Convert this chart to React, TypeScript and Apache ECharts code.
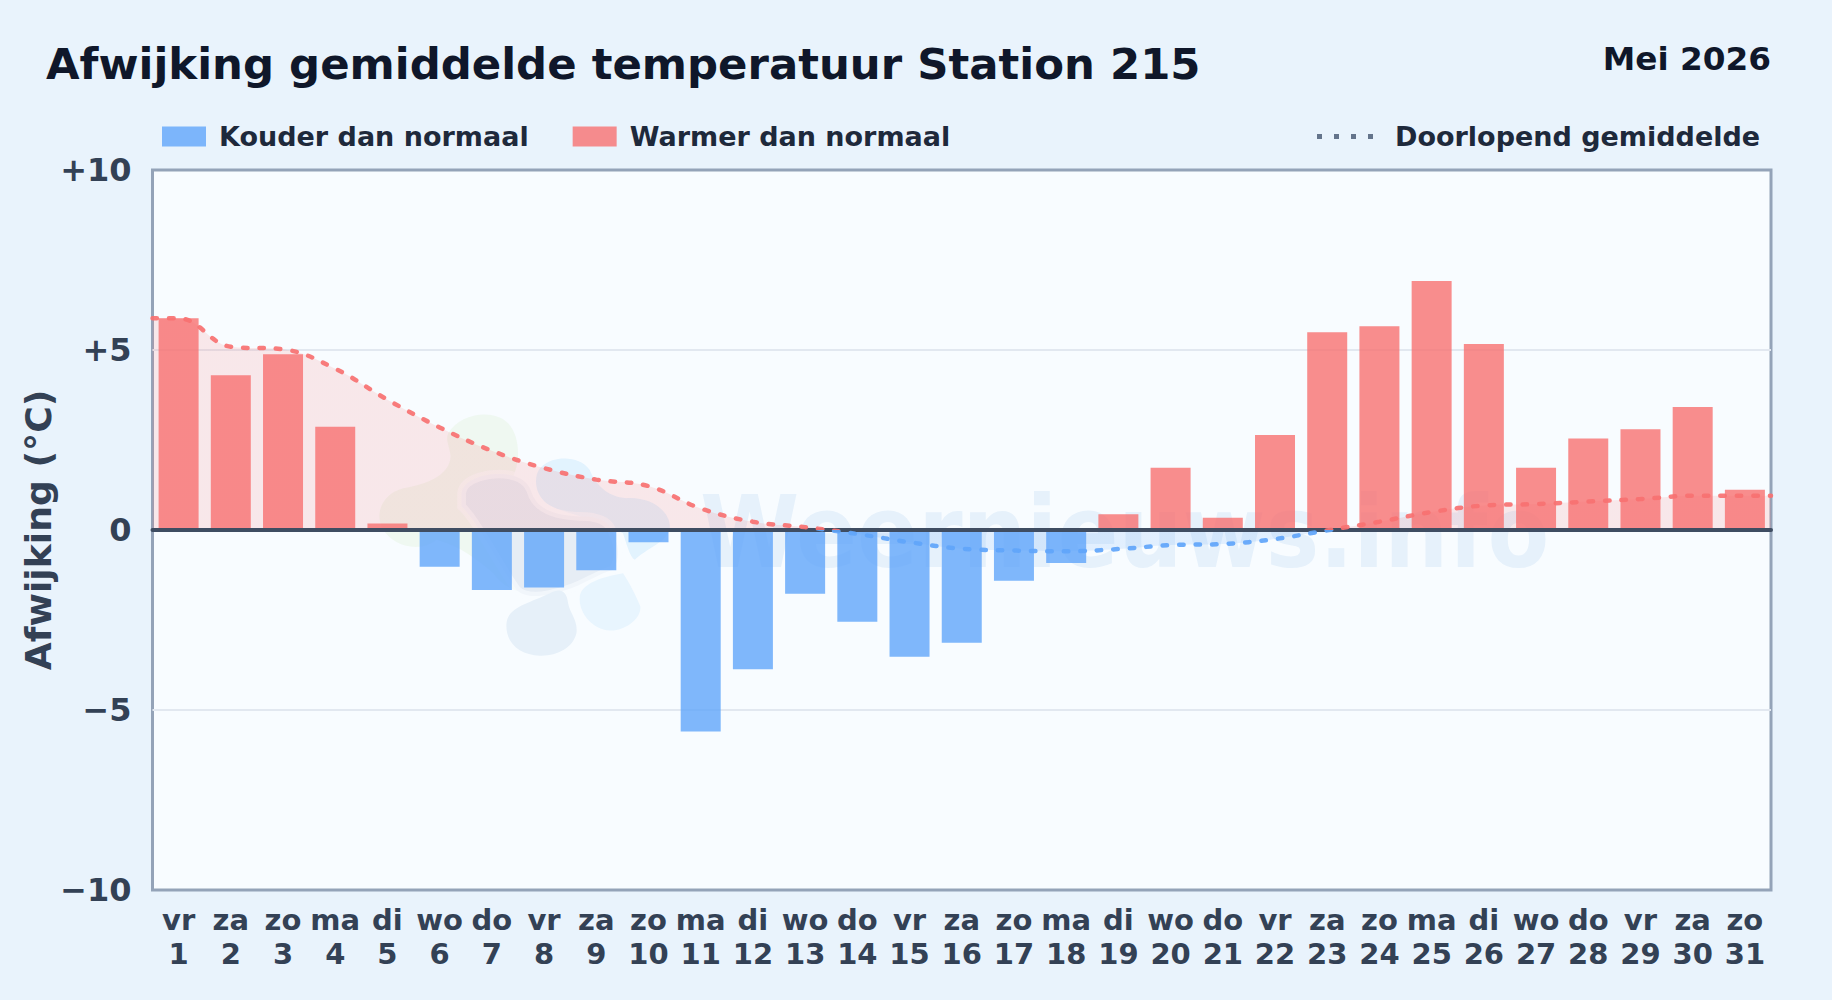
import React, { useEffect, useRef } from "react";
import * as echarts from "echarts";

const weekdays = ["vr","za","zo","ma","di","wo","do","vr","za","zo","ma","di","wo","do","vr","za","zo","ma","di","wo","do","vr","za","zo","ma","di","wo","do","vr","za","zo"];
const days = [1,2,3,4,5,6,7,8,9,10,11,12,13,14,15,16,17,18,19,20,21,22,23,24,25,26,27,28,29,30,31];
const anomalies = [5.88,4.3,4.88,2.87,0.18,-1.02,-1.67,-1.6,-1.12,-0.34,-5.6,-3.87,-1.77,-2.55,-3.52,-3.13,-1.41,-0.92,0.44,1.73,0.34,2.64,5.49,5.66,6.92,5.17,1.73,2.54,2.8,3.42,1.12];
const runningMean = [5.88,5.09,5.02,4.48,3.62,2.85,2.2,1.72,1.4,1.22,0.6,0.23,0.08,-0.11,-0.34,-0.52,-0.57,-0.59,-0.53,-0.42,-0.39,-0.25,-0.01,0.23,0.5,0.68,0.72,0.79,0.86,0.95,0.95];
const yTicks: Record<string,string> = { "10": "+10", "5": "+5", "0": "0", "-5": "\u22125", "-10": "\u221210" };

const FONT = "DejaVu Sans";
const COLD = "rgba(96,165,250,0.8)";
const WARM = "rgba(248,113,113,0.8)";
const PLOT_BG = "#f8fcff";

const blobs: [string, string, string][] = [
  ["wmGreen", "M265 100C300 40 400 25 445 70C490 120 480 220 440 260C500 350 520 500 520 570C480 590 430 560 400 520C340 470 300 440 230 420C180 460 100 440 70 390C40 340 70 280 130 265C200 255 270 225 272 170C270 140 255 120 265 100Z", "rgba(190,230,170,0.16)"],
  ["wmBlue", "M530 230C540 170 650 155 690 210C705 250 740 290 800 295C880 290 935 340 930 385C925 425 860 445 825 480C810 470 800 430 790 400C700 350 600 340 560 310C535 290 525 260 530 230Z", "rgba(160,215,250,0.25)"],
  ["wmCenter", "M305 280C310 235 390 215 450 225C500 235 510 260 520 290C540 330 590 350 680 350C730 355 750 370 760 400C780 440 780 480 760 510C720 520 660 560 620 570C560 590 500 600 470 570C400 470 350 360 305 320Z", "#e6edf5"],
  ["wmSlate", "M440 670C445 620 510 610 570 580C600 565 620 570 625 610C630 640 655 660 650 700C640 745 590 770 540 768C480 765 435 730 440 670Z", "#e6f0f9"],
  ["wmSky", "M660 590C665 550 730 530 790 520C810 550 830 590 842 620C845 660 790 695 750 692C700 690 655 640 660 590Z", "#e8f5fe"],
];
blobs.forEach(([name, d]) => {
  echarts.graphic.registerShape(name, echarts.graphic.extendPath(d, {}) as any);
});

export default function App() {
  const ref = useRef<HTMLDivElement>(null);
  useEffect(() => {
    document.body.style.margin = "0";
    const chart = echarts.init(ref.current!, undefined, { renderer: "svg" });
    const meanPoints: number[][] = [[0.5, runningMean[0]]];
    days.forEach((d, i) => meanPoints.push([d, runningMean[i]]));
    meanPoints.push([31.5, runningMean[runningMean.length - 1]]);

    chart.setOption({
      animation: false,
      backgroundColor: "#e9f3fc",
      textStyle: { fontFamily: FONT },
      title: [
        { text: "Afwijking gemiddelde temperatuur Station 215", left: 46, top: 42, padding: 0, textStyle: { fontFamily: FONT, fontSize: 43.4, fontWeight: "bold", color: "#0f172a" } },
        { text: "Mei 2026", right: 61, top: 42, padding: 0, textStyle: { fontFamily: FONT, fontSize: 32.7, fontWeight: "bold", color: "#0f172a" } },
      ],
      legend: [
        { left: 162, top: 123, itemWidth: 44, itemHeight: 20, itemGap: 44, padding: 0, data: ["Kouder dan normaal", "Warmer dan normaal"], icon: "rect",
          textStyle: { fontFamily: FONT, fontSize: 27, fontWeight: "bold", color: "#1e293b", padding: [0, 0, 0, 8] }, selectedMode: false },
        { left: 1317, top: 123, itemWidth: 56, itemHeight: 5, padding: 0, selectedMode: false,
          data: [{ name: "Doorlopend gemiddelde", icon: "path://M0 0h5v5h-5zM17 0h5v5h-5zM34 0h5v5h-5zM51 0h5v5h-5z", itemStyle: { color: "#64748b" } }],
          textStyle: { fontFamily: FONT, fontSize: 27, fontWeight: "bold", color: "#1e293b", padding: [0, 0, 0, 17] } },
      ],
      grid: { left: 152.5, right: 61, top: 170, bottom: 110, show: true, backgroundColor: PLOT_BG, borderColor: "#94a3b8", borderWidth: 3, z: 0 },
      xAxis: [
        { type: "category", data: weekdays.map((w, i) => `${w}\n${days[i]}`), position: "bottom",
          axisLine: { show: false, onZero: false }, axisTick: { show: false }, splitLine: { show: false },
          axisLabel: { interval: 0, margin: 13, fontFamily: FONT, fontSize: 29, fontWeight: "bold", color: "#334155", lineHeight: 34 } },
        { type: "value", min: 0.5, max: 31.5, position: "bottom", z: 4,
          axisLine: { show: true, onZero: true, lineStyle: { color: "#3f4d62", width: 4 } }, axisTick: { show: false }, axisLabel: { show: false }, splitLine: { show: false } },
      ],
      yAxis: { type: "value", min: -10, max: 10, interval: 5, z: 1,
        name: "Afwijking (\u00b0C)", nameLocation: "middle", nameGap: 96, nameMoveOverlap: false, nameTextStyle: { fontFamily: FONT, fontSize: 36.2, fontWeight: "bold", color: "#334155" },
        axisLine: { show: false }, axisTick: { show: false },
        axisLabel: { margin: 21, fontFamily: FONT, fontSize: 32, fontWeight: "bold", color: "#334155", formatter: (v: number) => yTicks[String(v)] ?? String(v) },
        splitLine: { showMinLine: false, showMaxLine: false, lineStyle: { color: "#e2e8f0", width: 2 } } },
      visualMap: { show: false, type: "piecewise", dimension: 1, seriesIndex: [0, 3],
        pieces: [{ min: -10, max: 0, color: "#60a5fa" }, { min: 0, max: 10, color: "#f87171" }] },
      series: [
        { name: "area", type: "line", xAxisIndex: 1, data: meanPoints, smooth: 0.4, symbol: "none", z: 2, lineStyle: { width: 0, opacity: 0 }, areaStyle: { opacity: 0.15 }, silent: true },
        { name: "Kouder dan normaal", type: "bar", xAxisIndex: 0, barWidth: 40, barGap: "-100%", z: 3, itemStyle: { color: COLD }, data: anomalies.map(v => (v < 0 ? v : null)) },
        { name: "Warmer dan normaal", type: "bar", xAxisIndex: 0, barWidth: 40, barGap: "-100%", z: 3, itemStyle: { color: WARM }, data: anomalies.map(v => (v >= 0 ? v : null)) },
        { name: "Doorlopend gemiddelde", type: "line", xAxisIndex: 1, data: meanPoints, smooth: 0.4, symbol: "none", z: 5, lineStyle: { width: 4.5, opacity: 0.92, type: [4.5, 12], cap: "round" } },
      ],
      graphic: [
        { type: "group", x: 360, y: 400, scaleX: 1 / 3, scaleY: 1 / 3, z: 1, silent: true,
          children: blobs.map(([name, , fill], i) => ({ type: name, z: 1, silent: true, style: { fill, stroke: i === 2 ? "rgba(248,252,255,0.6)" : undefined, lineWidth: i === 2 ? 26 : 0 } })) },
        { type: "text", x: 700, y: 482, scaleX: 0.9, z: 1, silent: true, style: { text: "Weernieuws.info", fontFamily: FONT, fontSize: 100, fontWeight: "bold", fill: "rgba(23,115,205,0.08)" } },
      ],
    });
    return () => chart.dispose();
  }, []);
  return <div ref={ref} style={{ width: 1832, height: 1000 }} />;
}
